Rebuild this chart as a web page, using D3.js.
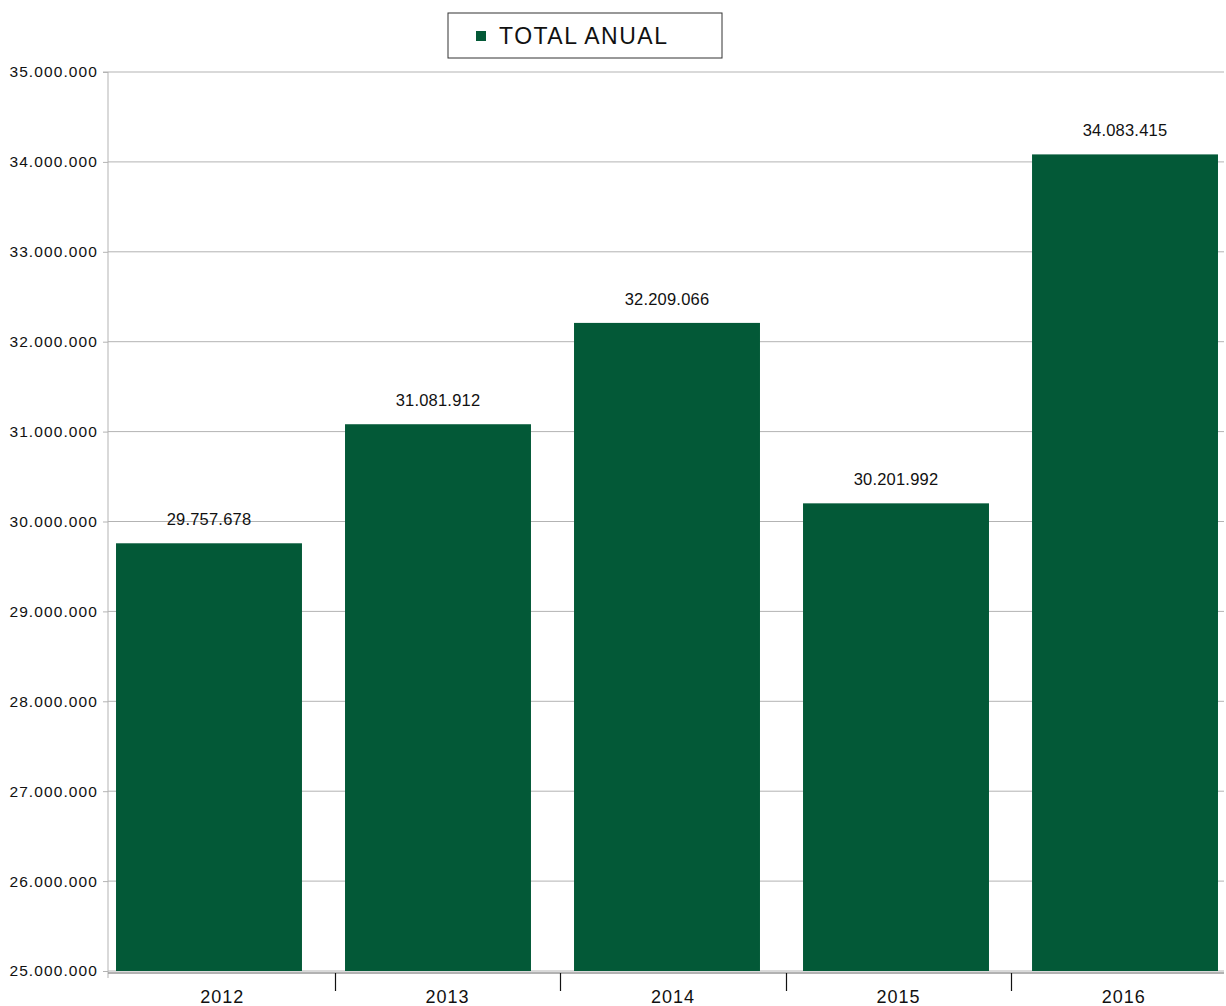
<!DOCTYPE html>
<html>
<head>
<meta charset="utf-8">
<script src="https://cdn.jsdelivr.net/npm/d3@7"></script>
<style>
  html, body { margin: 0; padding: 0; background: #fff; }
  svg { display: block; font-family: "Liberation Sans", Arial, sans-serif; }
</style>
</head>
<body>
<svg id="chart" width="1226" height="1006"></svg>
<script>
const categories = ["2012", "2013", "2014", "2015", "2016"];
const totalAnual = [29757678, 31081912, 32209066, 30201992, 34083415];
const yTicks = [25000000, 26000000, 27000000, 28000000, 29000000, 30000000, 31000000, 32000000, 33000000, 34000000, 35000000];
const seriesName = "TOTAL ANUAL";

(function () {
const barColor = "#035937";
const gridColor = "#b3b3b3";

const loc = d3.formatLocale({ decimal: ",", thousands: ".", grouping: [3], currency: ["", ""] });
const fmt = loc.format(",d");

const svg = d3.select("#chart");
const pLeft = 108, pRight = 1224, pTop = 72, pBottom = 971;

// bar positions
const x = d3.scaleBand().domain(categories).range([pLeft, 1226]).paddingInner(0.188).paddingOuter(0.035);
// category slots (labels and separators)
const xCat = d3.scaleBand().domain(categories).range([109.5, 1236.5]).padding(0);
const y = d3.scaleLinear().domain([25000000, 35000000]).range([pBottom, pTop]);

// gridlines
svg.append("g").selectAll("line").data(yTicks).join("line")
  .attr("x1", pLeft).attr("x2", pRight)
  .attr("y1", d => y(d)).attr("y2", d => y(d))
  .attr("stroke", gridColor).attr("stroke-width", 1);

// y axis
const yAxis = d3.axisLeft(y).tickValues(yTicks).tickFormat(fmt).tickSize(5).tickPadding(5);
const gy = svg.append("g").attr("transform", `translate(${pLeft},0)`).call(yAxis);
gy.select(".domain").attr("stroke", gridColor).attr("d", `M-5,${pTop}H0V${pBottom + 7}`);
gy.selectAll(".tick line").attr("stroke", gridColor);
gy.selectAll(".tick text").attr("fill", "#111")
  .style("font-size", "15.5px").style("letter-spacing", "1.1px")
  .style("font-family", "Liberation Sans, Arial, sans-serif");

// bars
svg.append("g").selectAll("rect").data(categories).join("rect")
  .attr("x", d => x(d))
  .attr("width", x.bandwidth())
  .attr("y", (d, i) => y(totalAnual[i]))
  .attr("height", (d, i) => y(25000000) - y(totalAnual[i]))
  .attr("fill", barColor);

// x axis line
svg.append("line").attr("x1", pLeft).attr("x2", pRight)
  .attr("y1", pBottom + 2).attr("y2", pBottom + 2)
  .attr("stroke", "#999").attr("stroke-width", 1.5);

// category separators
svg.append("g").selectAll("line").data(categories.slice(1)).join("line")
  .attr("x1", d => Math.round(xCat(d)) + 0.5)
  .attr("x2", d => Math.round(xCat(d)) + 0.5)
  .attr("y1", pBottom + 2).attr("y2", pBottom + 20)
  .attr("stroke", "#111").attr("stroke-width", 1.2);

// category labels
svg.append("g").selectAll("text").data(categories).join("text")
  .attr("x", d => xCat(d) + xCat.bandwidth() / 2)
  .attr("y", 1003)
  .attr("text-anchor", "middle")
  .attr("fill", "#111")
  .style("font-size", "18px").style("letter-spacing", "1px")
  .text(d => d);

// value labels
svg.append("g").selectAll("text").data(categories).join("text")
  .attr("x", d => x(d) + x.bandwidth() / 2)
  .attr("y", (d, i) => y(totalAnual[i]) - 18)
  .attr("text-anchor", "middle")
  .attr("fill", "#111")
  .style("font-size", "16.5px").style("letter-spacing", "0.2px")
  .text((d, i) => fmt(totalAnual[i]));

// legend
const lg = svg.append("g");
lg.append("rect").attr("x", 448).attr("y", 13).attr("width", 274).attr("height", 45)
  .attr("fill", "#fff").attr("stroke", "#333").attr("stroke-width", 1);
lg.append("rect").attr("x", 476).attr("y", 31).attr("width", 10).attr("height", 10).attr("fill", barColor);
lg.append("text").attr("x", 499).attr("y", 44).attr("fill", "#111")
  .style("font-size", "23px").style("letter-spacing", "1.5px").text(seriesName);
})();
</script>
</body>
</html>
